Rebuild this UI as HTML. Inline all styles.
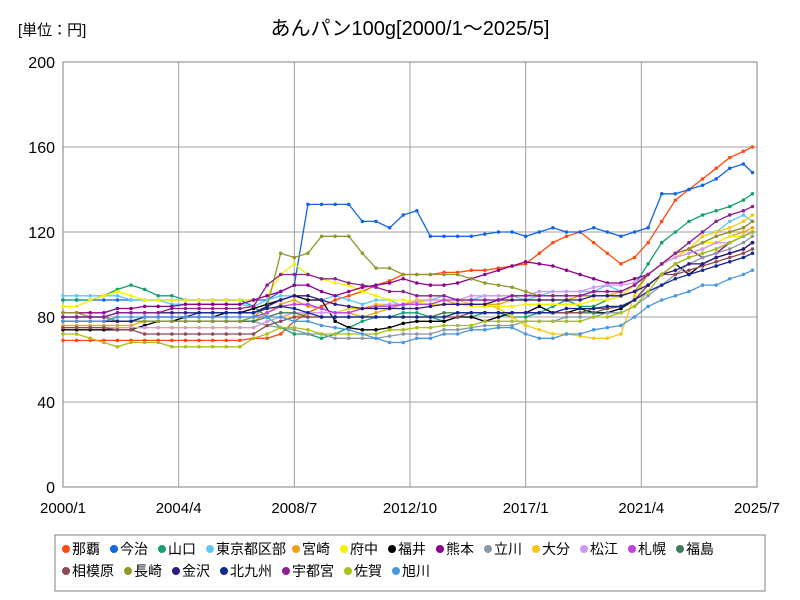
<!DOCTYPE html>
<html><head><meta charset="utf-8">
<style>
body{margin:0;background:#fff;font-family:"Liberation Sans","Noto Sans CJK JP",sans-serif;}
#wrap{position:relative;width:800px;height:600px;overflow:hidden;}
svg{position:absolute;left:0;top:0;}
</style></head>
<body>
<div id="wrap">
<svg id="chart" width="800" height="600"></svg>
</div>
<script>
const seriesNames=["那覇","今治","山口","東京都区部","宮崎","府中","福井","熊本","立川","大分","松江","札幌","福島","相模原","長崎","金沢","北九州","宇都宮","佐賀","旭川"];
const seriesColors=["#ff4a10","#1464e6","#14a070","#5cc8f8","#f0a010","#f4f000","#000000","#900090","#8898a8","#f8c810","#d098f0","#c040e0","#407a58","#904858","#909828","#301880","#102890","#902090","#a8c018","#4898e0"];
const yTicks=[0,40,80,120,160,200];
const xTickLabels=["2000/1","2004/4","2008/7","2012/10","2017/1","2021/4","2025/7"];
const xTickMonths=[0,51,102,153,204,255,306];
// values sampled every 6 months from 2000/1, last point 2025/5
const s0=[69,69,69,69,69,69,69,69,69,69,69,69,69,69,70,70,72,78,82,85,88,90,92,95,97,100,100,100,101,101,102,102,103,104,105,110,115,118,120,115,110,105,108,115,125,135,140,145,150,155,158,160];
const s1=[88,88,88,88,88,88,88,88,88,88,88,88,88,88,88,88,92,95,133,133,133,133,125,125,122,128,130,118,118,118,118,119,120,120,118,120,122,120,120,122,120,118,120,122,138,138,140,142,145,150,152,148];
const s2=[88,88,88,90,93,95,93,90,90,88,88,88,88,88,85,80,75,72,72,70,72,75,78,80,80,82,82,80,78,80,80,82,82,80,80,82,85,88,85,85,88,90,95,105,115,120,125,128,130,132,135,138];
const s3=[90,90,90,90,90,88,88,88,86,86,86,86,86,86,85,88,90,90,88,88,90,88,86,88,88,85,88,88,90,88,88,90,90,90,88,90,92,92,92,92,95,92,95,100,105,110,115,120,120,125,128,125];
const s4=[76,76,76,76,76,76,78,78,78,78,78,78,78,78,78,82,86,88,85,84,82,82,80,82,84,86,88,88,88,86,86,86,86,88,88,88,88,88,90,90,90,92,95,100,105,108,110,112,115,118,120,122];
const s5=[85,85,88,90,92,90,88,88,88,88,88,88,88,88,88,90,100,105,100,98,96,95,92,90,88,88,87,86,86,86,85,85,85,85,86,86,86,86,86,88,88,90,95,100,105,110,112,115,115,118,118,120];
const s6=[74,74,74,74,74,74,76,78,78,80,80,80,82,82,84,86,88,90,88,88,78,75,74,74,75,77,78,78,78,80,80,78,80,82,82,85,82,82,84,82,82,84,88,95,100,105,100,105,108,110,112,115];
const s7=[82,82,82,82,84,84,85,85,85,86,86,86,86,86,88,90,92,95,95,92,90,92,94,95,96,98,96,95,95,96,98,100,102,104,106,105,104,102,100,98,96,96,98,100,105,110,112,108,110,115,118,120];
const s8=[80,80,80,80,78,78,78,78,78,78,78,78,78,78,78,76,75,74,72,72,70,70,70,70,71,72,72,72,74,74,75,76,76,76,78,78,78,80,80,80,82,82,85,90,95,100,105,108,110,112,115,118];
const s9=[75,75,75,75,75,75,75,75,75,75,75,75,75,75,75,78,80,80,82,82,82,84,84,86,86,86,88,88,88,88,86,86,84,80,76,74,72,72,71,70,70,72,90,100,105,108,112,118,120,122,125,128];
const s10=[75,75,75,75,75,75,75,75,75,75,75,75,75,75,75,78,80,82,82,82,82,82,84,85,86,86,87,88,88,88,90,90,90,90,90,92,92,92,92,94,95,95,96,100,105,108,110,112,115,115,118,120];
const s11=[78,78,78,78,78,78,80,80,80,80,80,80,80,80,80,82,85,86,86,84,82,82,84,85,85,86,86,86,88,88,88,88,88,90,90,90,90,90,90,92,92,92,95,100,105,110,112,115,118,120,122,125];
const s12=[80,80,80,80,78,78,78,78,78,78,78,78,78,78,78,80,82,82,80,80,80,80,80,80,80,80,80,80,82,82,82,82,82,82,82,82,82,82,82,82,84,85,88,95,100,105,108,110,112,115,118,120];
const s13=[75,75,75,75,74,74,72,72,72,72,72,72,72,72,72,76,78,80,80,80,80,80,80,80,80,80,80,80,80,80,82,82,82,82,82,82,82,82,82,84,84,85,88,95,100,100,102,104,106,108,110,112];
const s14=[82,82,80,80,78,78,78,78,78,78,78,78,78,78,80,85,110,108,110,118,118,118,110,103,103,100,100,100,100,100,98,96,95,94,92,90,90,90,90,90,90,90,92,100,105,110,112,115,118,120,122,125];
const s15=[80,80,80,80,82,82,82,82,82,82,82,82,82,82,82,85,88,90,90,88,86,85,84,84,84,84,84,85,86,86,86,86,88,88,88,88,88,88,88,90,90,90,92,95,100,102,105,105,108,110,112,115];
const s16=[78,78,78,78,78,78,80,80,80,80,82,82,82,82,82,84,85,84,82,80,80,80,80,80,80,80,80,80,80,82,82,82,82,82,82,82,82,84,84,84,85,85,88,92,95,98,100,102,104,106,108,110];
const s17=[80,80,80,80,82,82,82,82,84,84,84,84,84,84,85,95,100,100,100,98,98,96,95,94,92,92,90,90,90,88,88,88,88,90,90,90,90,90,90,92,92,92,95,100,105,110,115,120,125,128,130,132];
const s18=[72,72,70,68,66,68,68,68,66,66,66,66,66,66,70,72,75,75,74,72,72,72,72,72,74,74,75,75,76,76,76,78,78,78,78,78,78,78,78,80,80,82,85,92,100,105,108,110,112,115,118,120];
const s19=[78,78,78,78,80,80,80,80,80,80,80,80,80,80,80,80,80,78,78,76,75,74,72,70,68,68,70,70,72,72,74,74,75,75,72,70,70,72,72,74,75,76,80,85,88,90,92,95,95,98,100,102];
const seriesValues=[s0,s1,s2,s3,s4,s5,s6,s7,s8,s9,s10,s11,s12,s13,s14,s15,s16,s17,s18,s19];

const NS="http://www.w3.org/2000/svg";
const svg=document.getElementById('chart');
const L=63,R=757,T=62,B=487,MAXM=306,MAXV=200;
function xScale(m){return L+m*(R-L)/MAXM;}
function yScale(v){return B-v*(B-T)/MAXV;}
function monthOf(i,n){return i===n-1?304:i*6;}
function mk(tag,attrs,name,parent){const e=document.createElementNS(NS,tag);for(const k in attrs)e.setAttribute(k,attrs[k]);(parent||svg).appendChild(e);return e;}

mk('rect',{x:L,y:T,width:R-L,height:B-T,fill:'#fff',stroke:'#808080','stroke-width':1},'plot-area');
yTicks.forEach(v=>{
  const g=mk('line',{x1:L,x2:R,y1:yScale(v),y2:yScale(v),stroke:'#a0a0a0','stroke-width':1},'y-gridline');
  const t=mk('text',{x:L-8,y:yScale(v)+6,'text-anchor':'end','font-size':16,fill:'#000'},'y-tick-label');t.textContent=v;
});
xTickMonths.forEach((m,i)=>{
  mk('line',{x1:xScale(m),x2:xScale(m),y1:T,y2:B,stroke:'#a0a0a0','stroke-width':1},'x-gridline');
  const t=mk('text',{x:xScale(m),y:B+26,'text-anchor':'middle','font-size':15,fill:'#000'},'x-tick-label');t.textContent=xTickLabels[i];
});
mk('rect',{x:L,y:T,width:R-L,height:B-T,fill:'none',stroke:'#808080','stroke-width':1},'plot-border');

seriesValues.forEach((vals,si)=>{
  const g=mk('g',{},'series-'+si);
  const pts=vals.map((v,i)=>xScale(monthOf(i,vals.length)).toFixed(1)+','+yScale(v).toFixed(1)).join(' ');
  mk('polyline',{points:pts,fill:'none',stroke:seriesColors[si],'stroke-width':1.3},'series-line',g);
  vals.forEach((v,i)=>{
    const c=document.createElementNS(NS,'circle');
    c.setAttribute('cx',xScale(monthOf(i,vals.length)));c.setAttribute('cy',yScale(v));c.setAttribute('r',1.8);c.setAttribute('fill',seriesColors[si]);
    
    
    g.appendChild(c);
  });
});

const title=mk('text',{x:410,y:35,'text-anchor':'middle','font-size':20,fill:'#000'},'chart-title');title.textContent='あんパン100g[2000/1～2025/5]';
const unit=mk('text',{x:18,y:35,'font-size':15,fill:'#000'},'unit-label');unit.textContent='[単位：円]';

mk('rect',{x:55,y:535,width:710,height:56,fill:'#fff',stroke:'#808080','stroke-width':1},'legend-box');
const legX=[62,110,158,206,292,340,388,436,484,532,580,628,676,62,124,172,220,282,344,392];
seriesNames.forEach((n,i)=>{
  const row=i<13?0:1;const y=row?576:554;
  const g=mk('g',{},'legend-entry');
  mk('circle',{cx:legX[i]+4,cy:y-5,r:4,fill:seriesColors[i]},'legend-marker',g);
  const t=mk('text',{x:legX[i]+10,y:y,'font-size':14,fill:'#000'},'legend-label',g);t.textContent=n;
});
</script>
</body></html>
